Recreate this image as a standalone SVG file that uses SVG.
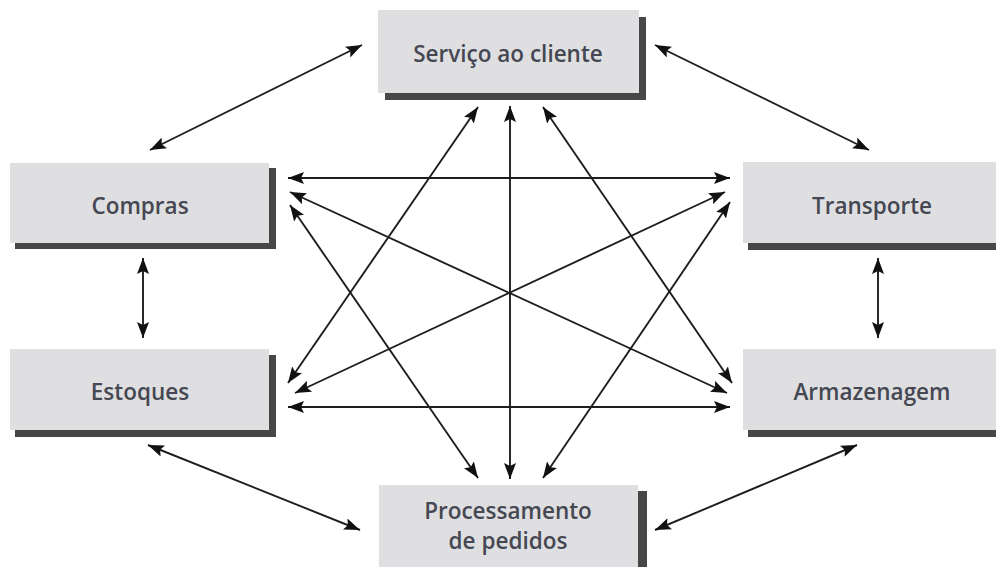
<svg xmlns="http://www.w3.org/2000/svg" width="996" height="567" viewBox="0 0 996 567">
<style>
.box{fill:#dfdfe1;}
.sh{fill:#474747;}
.lbl{font-family:"Open Sans","Noto Sans",sans-serif;font-size:22.5px;font-weight:600;fill:#454852;text-anchor:middle;}
.c line{stroke:#1e1e1e;stroke-width:1.9;marker-start:url(#ah);marker-end:url(#ah);}
</style>
<defs>
<marker id="ah" markerUnits="userSpaceOnUse" markerWidth="17" markerHeight="12" refX="16" refY="6" orient="auto-start-reverse">
<path d="M0,0 L16,6 L0,12 L3,6 z" fill="#111"/>
</marker>
</defs>
<rect width="996" height="567" fill="#fff"/>
<g id="servico">
<rect class="sh" x="385" y="17" width="261" height="83"/>
<rect class="box" x="378" y="10" width="261" height="83"/>
<text class="lbl" x="508" y="62">Serviço ao cliente</text>
</g>
<g id="compras">
<rect class="sh" x="15" y="168" width="261" height="81"/>
<rect class="box" x="10" y="163" width="259" height="80"/>
<text class="lbl" x="140" y="214">Compras</text>
</g>
<g id="estoques">
<rect class="sh" x="15" y="355" width="261" height="82"/>
<rect class="box" x="10" y="349" width="259" height="81"/>
<text class="lbl" x="140" y="400">Estoques</text>
</g>
<g id="transporte">
<rect class="sh" x="748" y="168" width="260" height="82"/>
<rect class="box" x="743" y="162" width="260" height="81"/>
<text class="lbl" x="872" y="214">Transporte</text>
</g>
<g id="armazenagem">
<rect class="sh" x="748" y="355" width="260" height="82"/>
<rect class="box" x="743" y="349" width="260" height="81"/>
<text class="lbl" x="872" y="400">Armazenagem</text>
</g>
<g id="processamento">
<rect class="sh" x="386" y="491" width="261" height="90"/>
<rect class="box" x="379" y="485" width="259" height="90"/>
<text class="lbl" x="508" y="519">Processamento</text>
<text class="lbl" x="508" y="549">de pedidos</text>
</g>
<g id="connectors" class="c">
<line x1="150" y1="150" x2="362" y2="45"/>
<line x1="655" y1="45" x2="869" y2="150"/>
<line x1="143" y1="258" x2="143" y2="338"/>
<line x1="878" y1="258" x2="878" y2="338"/>
<line x1="148" y1="445" x2="360" y2="530"/>
<line x1="857" y1="445" x2="655" y2="530"/>
<line x1="288" y1="178" x2="730" y2="178"/>
<line x1="288" y1="407" x2="730" y2="407"/>
<line x1="510" y1="106" x2="510" y2="479"/>
<line x1="290" y1="192" x2="727" y2="393"/>
<line x1="295" y1="393" x2="725" y2="192"/>
<line x1="478" y1="107" x2="288" y2="383"/>
<line x1="543" y1="107" x2="732" y2="383"/>
<line x1="290" y1="205" x2="478" y2="478"/>
<line x1="730" y1="202" x2="543" y2="478"/>
</g>
</svg>
